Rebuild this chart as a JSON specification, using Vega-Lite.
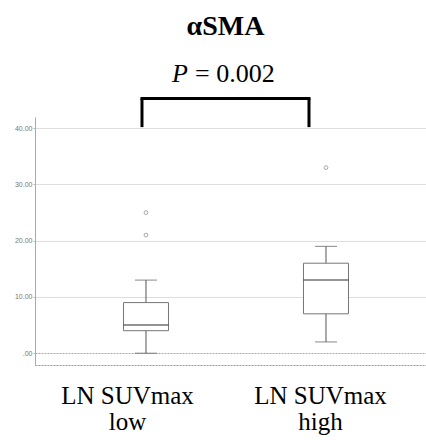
{
  "$schema": "https://vega.github.io/schema/vega-lite/v6.json",
  "width": 391,
  "height": 248,
  "autosize": "none",
  "padding": {"left": 35, "top": 117, "right": 0, "bottom": 75},
  "background": "white",
  "config": {"view": {"stroke": null}},
  "title": {
    "text": "αSMA",
    "font": "Liberation Serif",
    "fontSize": 28,
    "fontWeight": "bold",
    "color": "black",
    "anchor": "middle",
    "frame": "group",
    "baseline": "alphabetic",
    "dx": -5,
    "offset": -2
  },
  "datasets": {
    "boxes": [
      {"group": "LN SUVmax low", "lower": 0, "q1": 4, "median": 5, "q3": 9, "upper": 13},
      {"group": "LN SUVmax high", "lower": 2, "q1": 7, "median": 13, "q3": 16, "upper": 19}
    ],
    "outliers": [
      {"group": "LN SUVmax low", "value": 25},
      {"group": "LN SUVmax low", "value": 21},
      {"group": "LN SUVmax high", "value": 33}
    ],
    "bracket": [
      {"from": "LN SUVmax low", "to": "LN SUVmax high", "top": 45.3, "bottom": 40.2, "italic": "P", "rest": "= 0.002", "texty": 48.2}
    ]
  },
  "layer": [
    {
      "data": {"name": "boxes"},
      "mark": {"type": "rule", "color": "#555", "strokeWidth": 1},
      "encoding": {
        "x": {
          "field": "group", "type": "nominal",
          "scale": {"type": "point", "domain": ["LN SUVmax low", "LN SUVmax high"], "padding": 0.5861, "align": 0.526},
          "axis": {
            "title": null,
            "orient": "bottom",
            "ticks": false,
            "grid": false,
            "domainColor": "#999",
            "domainDash": [2, 1],
            "labelFont": "Liberation Serif",
            "labelFontSize": 25,
            "labelColor": "black",
            "labelLineHeight": 26,
            "labelPadding": 18,
            "labelAngle": 0,
            "labelExpr": "[slice(datum.label, 0, 9), slice(datum.label, 10)]",
            "labelOffset": {"condition": {"test": "datum.value === 'LN SUVmax low'", "value": -19}, "value": -6}
          }
        },
        "y": {
          "field": "lower", "type": "quantitative",
          "scale": {"domain": [-2.1, 42], "nice": false, "zero": false},
          "axis": {
            "title": null,
            "values": [0, 10, 20, 30, 40],
            "labelExpr": "datum.value === 0 ? '.00' : format(datum.value, '.2f')",
            "labelFont": "Liberation Sans",
            "labelFontSize": 7,
            "labelColor": "#777",
            "labelPadding": 1,
            "tickSize": 2,
            "tickColor": "#bbb",
            "domainColor": "#aaa",
            "gridColor": {"condition": {"test": "datum.value === 0", "value": "#aaa"}, "value": "#dedede"},
            "gridDash": {"condition": {"test": "datum.value === 0", "value": [2, 1]}, "value": []}
          }
        },
        "y2": {"field": "upper"}
      }
    },
    {
      "data": {"name": "boxes"},
      "mark": {"type": "tick", "size": 22, "thickness": 1, "color": "#555", "orient": "horizontal"},
      "encoding": {
        "x": {"field": "group", "type": "nominal"},
        "y": {"field": "lower", "type": "quantitative"}
      }
    },
    {
      "data": {"name": "boxes"},
      "mark": {"type": "tick", "size": 22, "thickness": 1, "color": "#555", "orient": "horizontal"},
      "encoding": {
        "x": {"field": "group", "type": "nominal"},
        "y": {"field": "upper", "type": "quantitative"}
      }
    },
    {
      "data": {"name": "boxes"},
      "mark": {"type": "bar", "width": 45, "fill": "white", "stroke": "#777", "strokeWidth": 1},
      "encoding": {
        "x": {"field": "group", "type": "nominal"},
        "y": {"field": "q1", "type": "quantitative"},
        "y2": {"field": "q3"}
      }
    },
    {
      "data": {"name": "boxes"},
      "mark": {"type": "tick", "size": 45, "thickness": 1.5, "color": "#333", "orient": "horizontal"},
      "encoding": {
        "x": {"field": "group", "type": "nominal"},
        "y": {"field": "median", "type": "quantitative"}
      }
    },
    {
      "data": {"name": "outliers"},
      "mark": {"type": "point", "shape": "circle", "size": 14, "filled": false, "stroke": "#777", "strokeWidth": 0.9},
      "encoding": {
        "x": {"field": "group", "type": "nominal"},
        "y": {"field": "value", "type": "quantitative"}
      }
    },
    {
      "data": {"name": "bracket"},
      "mark": {"type": "rule", "color": "black", "strokeWidth": 3, "strokeCap": "square", "xOffset": -4, "x2Offset": -17},
      "encoding": {
        "x": {"field": "from", "type": "nominal"},
        "x2": {"field": "to"},
        "y": {"field": "top", "type": "quantitative"}
      }
    },
    {
      "data": {"name": "bracket"},
      "mark": {"type": "rule", "color": "black", "strokeWidth": 3, "xOffset": -4},
      "encoding": {
        "x": {"field": "from", "type": "nominal"},
        "y": {"field": "bottom", "type": "quantitative"},
        "y2": {"field": "top"}
      }
    },
    {
      "data": {"name": "bracket"},
      "mark": {"type": "rule", "color": "black", "strokeWidth": 3, "xOffset": -17},
      "encoding": {
        "x": {"field": "to", "type": "nominal"},
        "y": {"field": "bottom", "type": "quantitative"},
        "y2": {"field": "top"}
      }
    },
    {
      "data": {"name": "bracket"},
      "mark": {"type": "text", "font": "Liberation Serif", "fontSize": 26, "fontStyle": "italic", "color": "black", "align": "right", "baseline": "alphabetic", "xOffset": 42},
      "encoding": {
        "x": {"field": "from", "type": "nominal"},
        "y": {"field": "texty", "type": "quantitative"},
        "text": {"field": "italic"}
      }
    },
    {
      "data": {"name": "bracket"},
      "mark": {"type": "text", "font": "Liberation Serif", "fontSize": 26, "color": "black", "align": "left", "baseline": "alphabetic", "xOffset": 49},
      "encoding": {
        "x": {"field": "from", "type": "nominal"},
        "y": {"field": "texty", "type": "quantitative"},
        "text": {"field": "rest"}
      }
    }
  ]
}
